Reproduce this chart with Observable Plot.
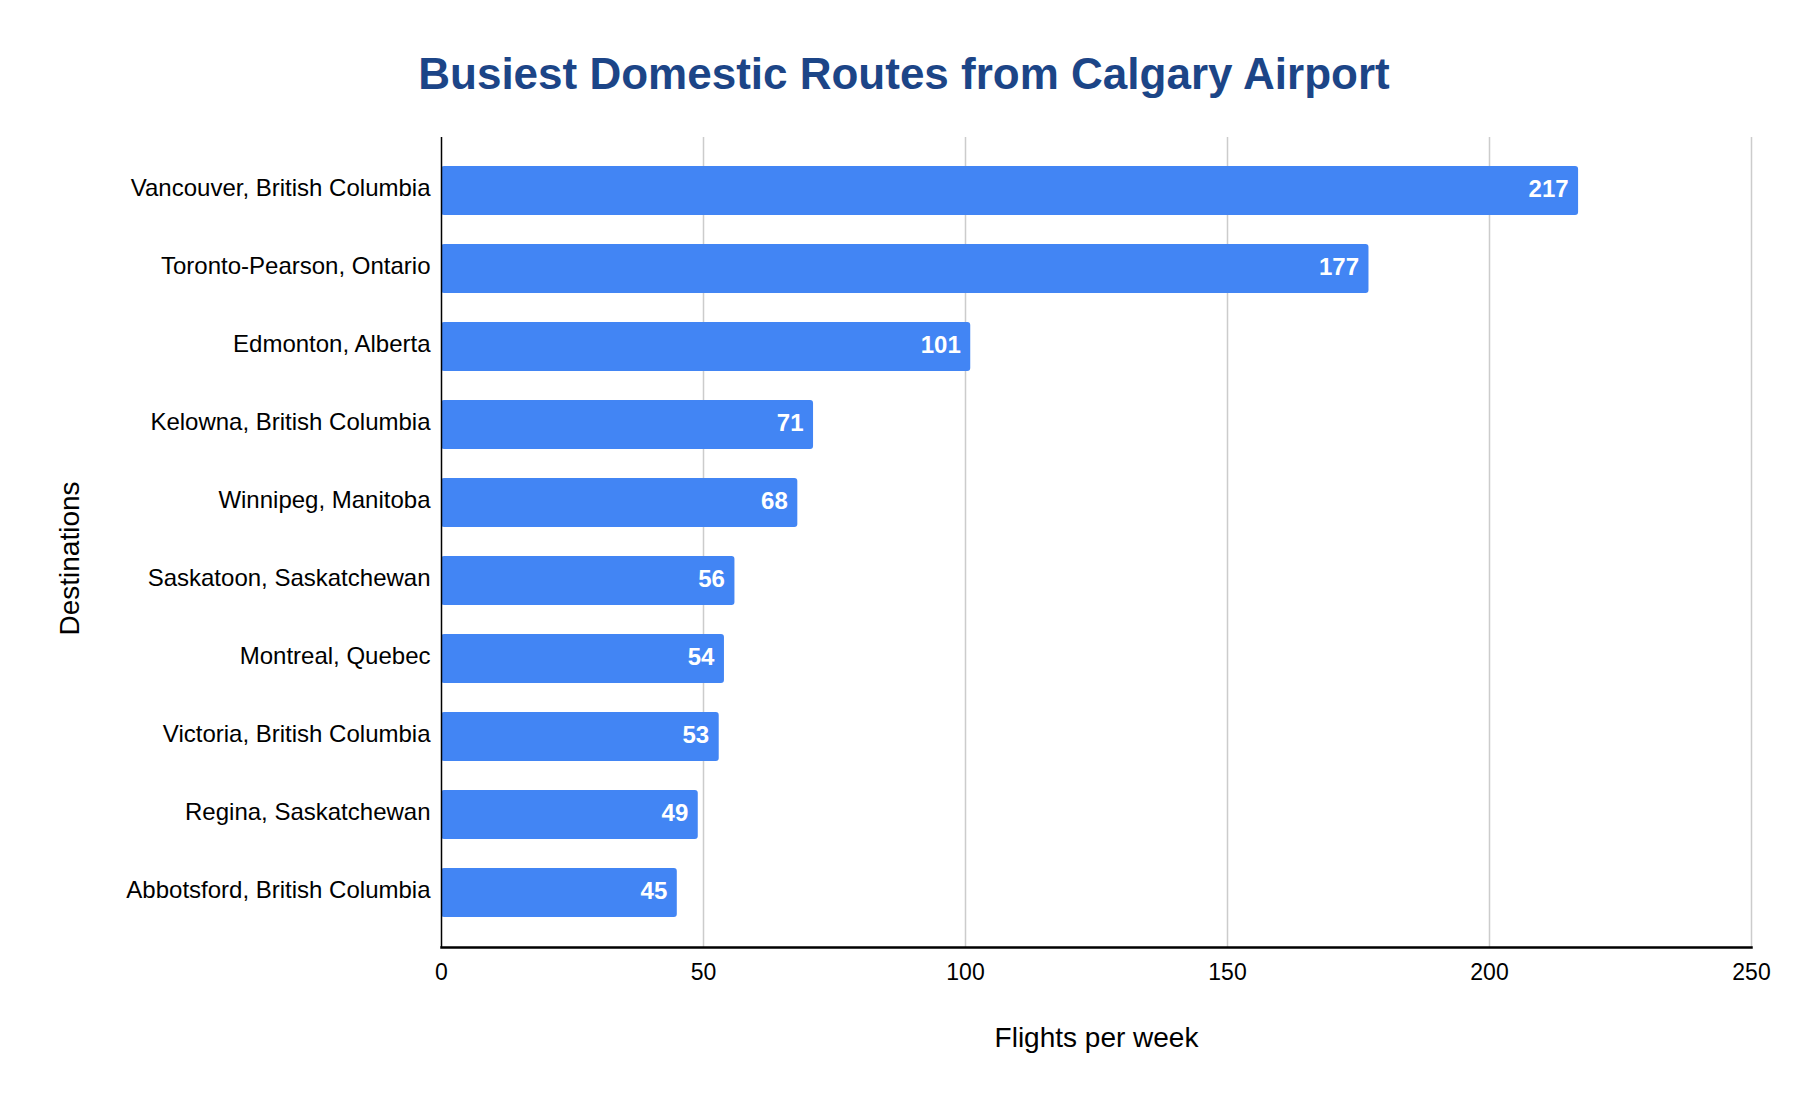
<!DOCTYPE html>
<html>
<head>
<meta charset="utf-8">
<script src="https://cdn.jsdelivr.net/npm/d3@7"></script>
<script src="https://cdn.jsdelivr.net/npm/@observablehq/plot@0.6"></script>
<style>
  html, body { margin: 0; padding: 0; background: #fff; }
  #title {
    height: 110px; box-sizing: border-box; padding-top: 52px;
    text-align: center; font-family: "Liberation Sans", Arial, sans-serif;
    font-weight: bold; font-size: 44px; line-height: 44px; color: #1c4587;
    padding-left: 2px;
  }
</style>
</head>
<body>
<div id="title">Busiest Domestic Routes from Calgary Airport</div>
<div id="chart"></div>
<script>
const destinations = [
  "Vancouver, British Columbia",
  "Toronto-Pearson, Ontario",
  "Edmonton, Alberta",
  "Kelowna, British Columbia",
  "Winnipeg, Manitoba",
  "Saskatoon, Saskatchewan",
  "Montreal, Quebec",
  "Victoria, British Columbia",
  "Regina, Saskatchewan",
  "Abbotsford, British Columbia"
];
const flights = [217, 177, 101, 71, 68, 56, 54, 53, 49, 45];
const xTicks = [0, 50, 100, 150, 200, 250];
const xTitle = "Flights per week";
const yTitle = "Destinations";

const data = destinations.map((d, i) => ({dest: d, value: flights[i]}));

const chart = Plot.plot({
  width: 1806,
  height: 998,
  marginTop: 27,
  marginBottom: 161,
  marginLeft: 441,
  marginRight: 55,
  style: {fontFamily: "'Liberation Sans', Arial, sans-serif", fontSize: "22px", color: "#000", background: "#fff"},
  x: {domain: [0, 250]},
  y: {domain: destinations, padding: 0.367},
  marks: [
    Plot.ruleX(xTicks.filter(t => t > 0), {stroke: "#cccccc", strokeWidth: 1.5}),
    Plot.barX(data, {x: "value", y: "dest", fill: "#4285f4", rx: 3}),
    Plot.text(data, {x: "value", y: "dest", text: d => String(d.value), textAnchor: "end", dx: -10, dy: -2, fill: "#fff", fontWeight: "bold", fontSize: 24}),
    Plot.ruleX([0], {stroke: "#000", strokeWidth: 1.5}),
    Plot.frame({anchor: "bottom", stroke: "#000", strokeWidth: 2.5}),
    Plot.axisX({ticks: xTicks, tickSize: 0, tickPadding: 16, label: null, fontSize: 23, tickFormat: d => String(d)}),
    Plot.axisY({tickSize: 0, tickPadding: 11, label: null, fontSize: 24, dy: -3}),
    Plot.text([xTitle], {frameAnchor: "bottom", text: d => d, textAnchor: "middle", dy: 91, lineAnchor: "middle", fontSize: 28, fill: "#000"}),
    Plot.text([yTitle], {frameAnchor: "left", text: d => d, textAnchor: "middle", rotate: -90, dx: -371, dy: 16, lineAnchor: "middle", fontSize: 28, fill: "#000"})
  ]
});
document.getElementById("chart").appendChild(chart);
</script>
</body>
</html>
